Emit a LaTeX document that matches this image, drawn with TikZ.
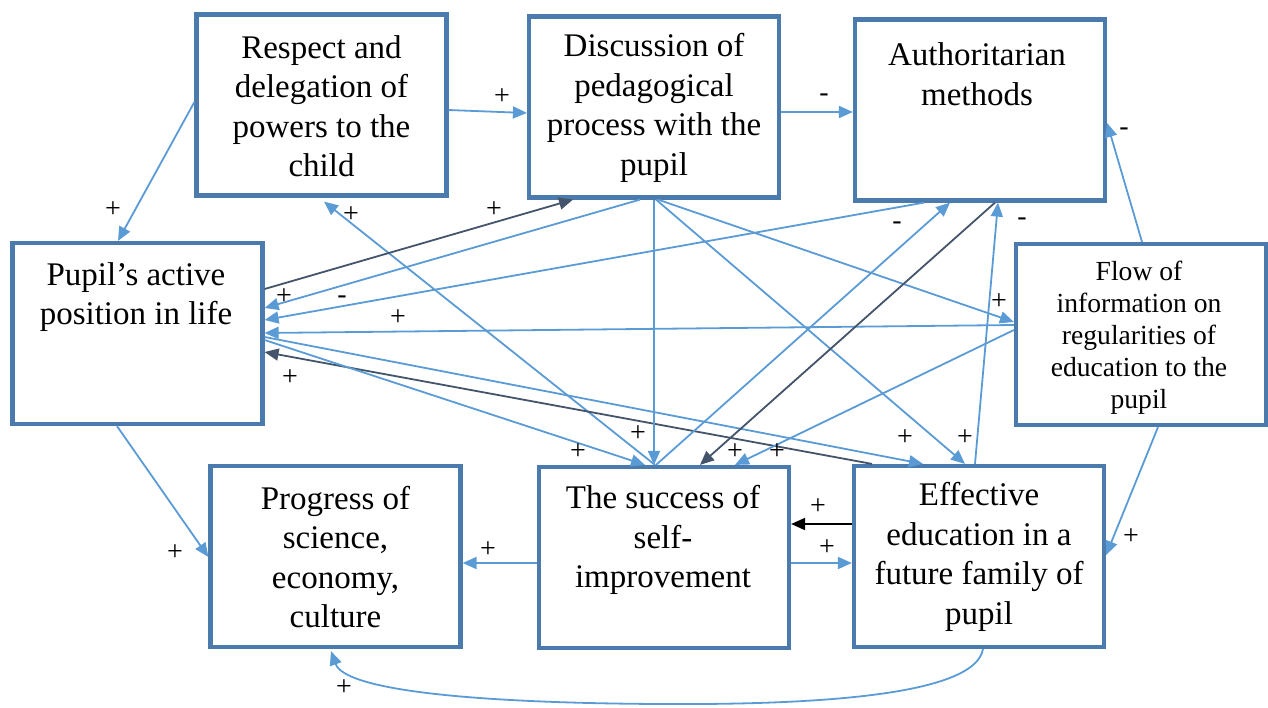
\documentclass[tikz,border=0pt]{standalone}
\usepackage{fontspec}
\setmainfont{Liberation Serif}
\usetikzlibrary{arrows.meta,calc}
\definecolor{boxc}{RGB}{74,123,172}
\definecolor{lb}{RGB}{91,155,213}
\definecolor{dk}{RGB}{68,84,106}
\tikzset{
  box/.style={draw=boxc, line width=2.1pt, minimum width=125pt, minimum height=90.5pt, inner sep=0pt},
  txt/.style={font=\fontsize{16.5}{19.75}\selectfont, align=center, inner sep=0pt},
  ftxt/.style={font=\fontsize{13.8}{16}\selectfont, align=center, inner sep=0pt},
  lab/.style={font=\fontsize{14}{14}\selectfont, inner sep=0pt},
  arr/.style={draw=lb, line width=0.9pt, -{Triangle[length=7pt,width=6pt]}},
  darr/.style={arr, draw=dk, fill=dk},
  barr/.style={arr, draw=black, fill=black},
}
\begin{document}
\begin{tikzpicture}[x=0.5pt,y=-0.5pt]
\useasboundingbox (0,0) rectangle (1268,707);
% boxes
\node[box] (R) at (321.5,105) {};
\node[box] (D) at (654,107) {};
\node[box] (A) at (980,110) {};
\node[box] (P) at (137.5,333.5) {};
\node[box] (F) at (1141,334.5) {};
\node[box] (G) at (335.5,556.5) {};
\node[box] (S) at (664,557.5) {};
\node[box] (E) at (979,556.5) {};
% texts
\node[txt] (Rt) at (321.5,106) {Respect and\\delegation of\\powers to the\\child};
\node[txt] (Dt) at (654,108) {Discussion of\\pedagogical\\process with the\\pupil};
\node[txt] (At) at (977,74) {Authoritarian\\methods};
\node[txt] (Pt) at (136,297) {Pupil’s active\\position in life};
\node[ftxt] (Ft) at (1139,338) {Flow of\\information on\\regularities of\\education to the\\pupil};
\node[txt] (Gt) at (335.5,557) {Progress of\\science,\\economy,\\culture};
\node[txt] (St) at (663,540) {The success of\\self-\\improvement};
\node[txt] (Et) at (979,557) {Effective\\education in a\\future family of\\pupil};
% connectors
\draw[arr] ($(R.west)+(0,-3)$) -- ($(P.north)+(-19.5,0)$);
\draw[arr] ($(R.east)+(0,5)$) -- ($(D.west)+(0,6)$);
\draw[arr] ($(D.east)+(0,5)$) -- ($(A.west)+(0,2)$);
\draw[arr] ($(F.north)+(1,0)$) -- ($(A.east)+(0,13)$);
\draw[arr] ($(S.north)+(-9,0)$) -- ($(R.south)+(2.5,4)$);
\draw[darr] ($(P.east)+(0,-44.5)$) -- ($(D.south)+(-81,0)$);
\draw[arr] ($(D.south)+(-14,0)$) -- ($(P.east)+(0,-25.5)$);
\draw[arr] ($(A.south)+(-56,0)$) -- ($(P.east)+(0,-13.5)$);
\draw[arr] ($(F.west)+(0,-9.5)$) -- ($(P.east)+(0,-0.5)$);
\draw[darr] ($(E.north)+(-107,0)$) -- ($(P.east)+(0,18.5)$);
\draw[arr] ($(P.east)+(0,3.5)$) -- ($(E.north)+(-56,0)$);
\draw[arr] ($(P.east)+(0,6.5)$) -- ($(S.north)+(-19,0)$);
\draw[arr] (D.south) -- ($(S.north)+(-10,0)$);
\draw[arr] ($(D.south)+(2,0)$) -- ($(E.north)+(-14,0)$);
\draw[arr] ($(D.south)+(4,0)$) -- ($(F.west)+(0,-12.5)$);
\draw[arr] ($(E.north)+(-4,0)$) -- ($(A.south)+(18,0)$);
\draw[arr] ($(S.north)+(-8,0)$) -- ($(A.south)+(-30,0)$);
\draw[darr] ($(A.south)+(15,0)$) -- ($(S.north)+(36,0)$);
\draw[arr] ($(F.west)+(0,-4.5)$) -- ($(S.north)+(71,0)$);
\draw[arr] ($(F.south)+(17,0)$) -- ($(E.east)+(0,-1.5)$);
\draw[arr] ($(P.south)+(-20.5,0)$) -- ($(G.west)+(0,0.5)$);
\draw[arr] ($(S.west)+(0,5.5)$) -- ($(G.east)+(0,6.5)$);
\draw[barr] ($(E.west)+(0,-32.5)$) -- ($(S.east)+(0,-33.5)$);
\draw[arr] ($(S.east)+(0,5.5)$) -- ($(E.west)+(0,6.5)$);
\draw[arr] ($(E.south)+(4,0)$) .. controls (975,695) and (820,705) .. (660,704)
   .. controls (470,703) and (345,690) .. ($(G.south)+(-4.5,2)$);
% labels
\node[lab] (l1) at (113,210) {+};
\node[lab] (l2) at (502,97) {+};
\node[lab] (l3) at (824,98) {-};
\node[lab] (l4) at (1124,132) {-};
\node[lab] (l5) at (351,215) {+};
\node[lab] (l6) at (494,210) {+};
\node[lab] (l7) at (284,297) {+};
\node[lab] (l8) at (342,300) {-};
\node[lab] (l9) at (398,318) {+};
\node[lab] (l10) at (290,378) {+};
\node[lab] (l11) at (905,438) {+};
\node[lab] (l12) at (578,452) {+};
\node[lab] (l13) at (638,434) {+};
\node[lab] (l14) at (965,438) {+};
\node[lab] (l15) at (999,302) {+};
\node[lab] (l16) at (1022,222) {-};
\node[lab] (l17) at (897,226) {-};
\node[lab] (l18) at (735,452) {+};
\node[lab] (l19) at (777,452) {+};
\node[lab] (l20) at (1131,537) {+};
\node[lab] (l21) at (175,553) {+};
\node[lab] (l22) at (488,550) {+};
\node[lab] (l23) at (818,507) {+};
\node[lab] (l24) at (827,548) {+};
\node[lab] (l25) at (344,688) {+};
\end{tikzpicture}
\end{document}
